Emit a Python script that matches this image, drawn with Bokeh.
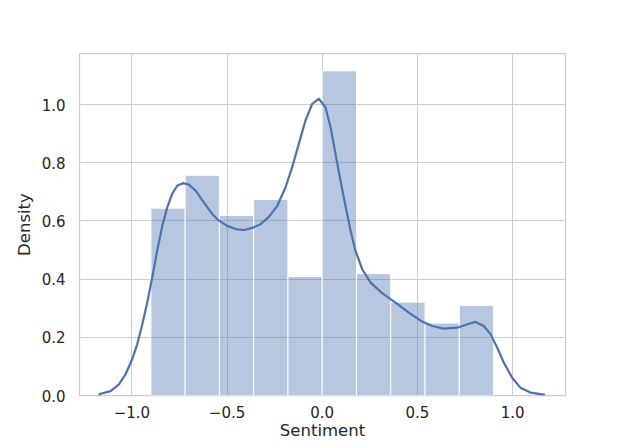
from bokeh.plotting import figure
from bokeh.models import Range1d, FixedTicker, CustomJSTickFormatter
from bokeh.embed import file_html
from bokeh.resources import INLINE

# histogram of sentiment scores (density normalised)
bin_edges = [-0.9, -0.72, -0.54, -0.36, -0.18, 0.0, 0.18, 0.36, 0.54, 0.72, 0.9]
densities = [0.644, 0.757, 0.619, 0.674, 0.409, 1.116, 0.419, 0.321, 0.249, 0.310]

# kde curve
kde_x = [-1.175, -1.164, -1.112, -1.068, -1.033, -0.998, -0.972, -0.945, -0.919,
         -0.893, -0.867, -0.840, -0.814, -0.788, -0.762, -0.732, -0.700,
         -0.665, -0.622, -0.578, -0.543, -0.499, -0.455, -0.412, -0.368,
         -0.324, -0.280, -0.236, -0.193, -0.158, -0.123, -0.088, -0.053,
         -0.018, 0.017, 0.044, 0.070, 0.096, 0.122, 0.149, 0.175, 0.210,
         0.254, 0.315, 0.385, 0.455, 0.525, 0.578, 0.639, 0.709, 0.762,
         0.805, 0.849, 0.884, 0.919, 0.954, 0.998, 1.041, 1.094, 1.155, 1.17]
kde_y = [0.002, 0.006, 0.015, 0.038, 0.073, 0.125, 0.176, 0.245, 0.320,
         0.406, 0.497, 0.583, 0.647, 0.693, 0.721, 0.730, 0.725,
         0.704, 0.664, 0.624, 0.601, 0.583, 0.572, 0.569, 0.576,
         0.589, 0.614, 0.652, 0.715, 0.784, 0.865, 0.945, 1.002,
         1.020, 0.991, 0.922, 0.830, 0.738, 0.652, 0.566, 0.497, 0.434,
         0.388, 0.352, 0.319, 0.285, 0.254, 0.239, 0.230, 0.233, 0.245,
         0.253, 0.239, 0.211, 0.165, 0.113, 0.061, 0.027, 0.010, 0.004, 0.002]

x_ticks = [-1.0, -0.5, 0.0, 0.5, 1.0]
y_ticks = [0.0, 0.2, 0.4, 0.6, 0.8, 1.0]

blue = "#4c72b0"
grey = "#cccccc"
txt = "#262626"
font = "DejaVu Sans"

p = figure(width=628, height=444, output_backend="svg", toolbar_location=None,
           x_range=Range1d(-1.275, 1.278), y_range=Range1d(0, 1.1756),
           min_border_left=79, min_border_right=63, min_border_top=53,
           min_border_bottom=49)

p.quad(left=bin_edges[:-1], right=bin_edges[1:], bottom=0, top=densities,
       fill_color=blue, fill_alpha=0.4, line_color="white", line_width=1)
p.line(kde_x, kde_y, line_color=blue, line_width=2.2, line_join="round")

p.outline_line_color = grey
p.outline_line_width = 1.25
p.background_fill_color = "white"
p.border_fill_color = "white"

for g in (p.xgrid, p.ygrid):
    g.grid_line_color = grey
    g.grid_line_width = 1

p.xaxis.ticker = FixedTicker(ticks=x_ticks)
p.yaxis.ticker = FixedTicker(ticks=y_ticks)
p.xgrid.ticker = FixedTicker(ticks=x_ticks)
p.ygrid.ticker = FixedTicker(ticks=y_ticks)
fmt = CustomJSTickFormatter(code="return tick.toFixed(1).replace('-', '\u2212');")
p.xaxis.formatter = fmt
p.yaxis.formatter = fmt

p.xaxis.axis_label = "Sentiment"
p.yaxis.axis_label = "Density"
for ax in (p.xaxis, p.yaxis):
    ax.axis_line_color = None
    ax.major_tick_line_color = None
    ax.minor_tick_line_color = None
    ax.major_tick_out = 0
    ax.major_tick_in = 0
    ax.major_label_text_font = font
    ax.major_label_text_font_size = "15px"
    ax.major_label_text_color = txt
    ax.axis_label_text_font = font
    ax.axis_label_text_font_size = "16.5px"
    ax.axis_label_text_font_style = "normal"
    ax.axis_label_text_color = txt
p.xaxis.major_label_standoff = 10
p.xaxis.axis_label_standoff = 0
p.yaxis.major_label_standoff = 14
p.yaxis.axis_label_standoff = 5

open("out.html", "w").write(file_html(p, INLINE))
